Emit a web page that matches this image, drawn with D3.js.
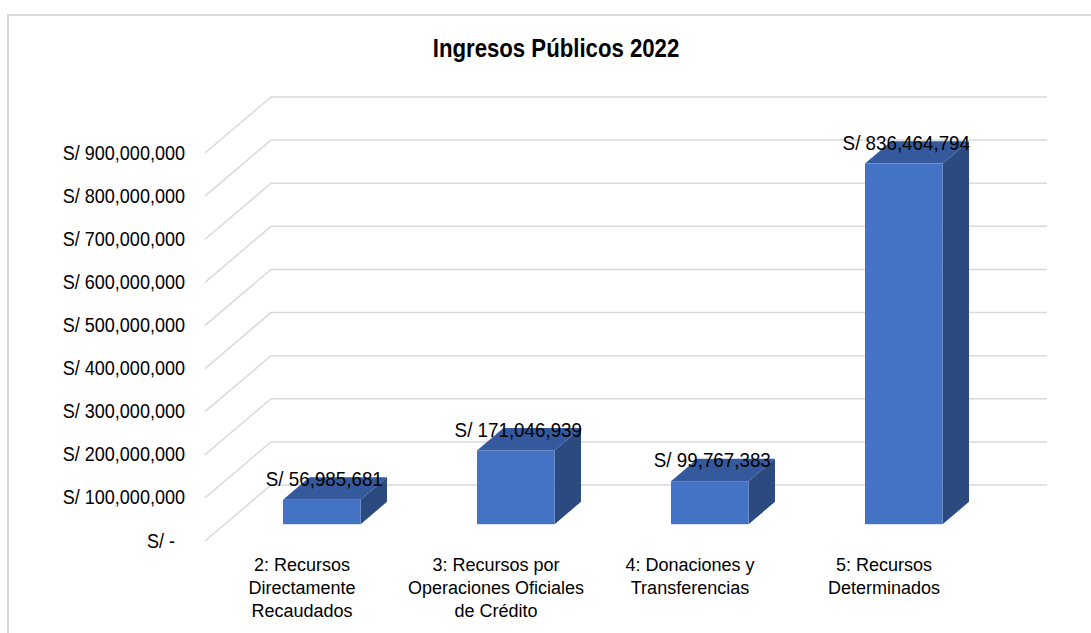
<!DOCTYPE html>
<html>
<head>
<meta charset="utf-8">
<script src="https://cdn.jsdelivr.net/npm/d3@7"></script>
<style>
  html, body { margin: 0; padding: 0; background: #ffffff; }
  svg { display: block; font-family: "Liberation Sans", Arial, sans-serif; }
</style>
</head>
<body>
<svg id="chart" width="1091" height="633"></svg>
<script>
// ---- data ----
const title = "Ingresos Públicos 2022";
const categories = [
  "2: Recursos Directamente Recaudados",
  "3: Recursos por Operaciones Oficiales de Crédito",
  "4: Donaciones y Transferencias",
  "5: Recursos Determinados"
];
const categoryLines = [
  ["2: Recursos", "Directamente", "Recaudados"],
  ["3: Recursos por", "Operaciones Oficiales", "de Crédito"],
  ["4: Donaciones y", "Transferencias"],
  ["5: Recursos", "Determinados"]
];
const values = [56985681, 171046939, 99767383, 836464794];
const valueLabels = ["S/ 56,985,681", "S/ 171,046,939", "S/ 99,767,383", "S/ 836,464,794"];
const tickValues = [0, 100000000, 200000000, 300000000, 400000000, 500000000, 600000000, 700000000, 800000000, 900000000];
const tickLabels = ["S/ -", "S/ 100,000,000", "S/ 200,000,000", "S/ 300,000,000", "S/ 400,000,000",
                    "S/ 500,000,000", "S/ 600,000,000", "S/ 700,000,000", "S/ 800,000,000", "S/ 900,000,000"];

// ---- layout ----
const svg = d3.select("#chart");
const DX = 66, DY = -56;          // full depth offset of the 3D floor
const d0 = 0.3, d1 = 0.7;         // bar depth range (fraction of floor depth)
const y = d3.scaleLinear().domain([0, 900000000]).range([541, 153]);
const x = d3.scaleBand().domain(categories).range([205, 981]).paddingInner(0.6).paddingOuter(0.3);

// outer frame
svg.append("rect").attr("x", 8).attr("y", 15).attr("width", 1200).attr("height", 700)
  .attr("fill", "none").attr("stroke", "#d9d9d9").attr("stroke-width", 2);

// title
svg.append("text")
  .attr("transform", "translate(556,56.5) scale(0.87,1)")
  .attr("text-anchor", "middle").attr("font-size", 25.5).attr("font-weight", "bold")
  .attr("fill", "#000").text(title);

// gridlines (side wall + back wall)
const xL = x.range()[0], xR = x.range()[1];
svg.append("g").selectAll("path").data(tickValues).join("path")
  .attr("d", v => `M${xL},${y(v)}L${xL + DX},${y(v) + DY}L${xR + DX},${y(v) + DY}`)
  .attr("fill", "none").attr("stroke", "#d9d9d9").attr("stroke-width", 1.5);

// y tick labels
svg.append("g").selectAll("text").data(tickValues).join("text")
  .attr("transform", (v, i) => `translate(${185 - (v === 0 ? 10 : 0)},${y(v) + 6.5}) scale(0.88,1)`)
  .attr("text-anchor", "end").attr("font-size", 20.5).attr("fill", "#000")
  .text((v, i) => tickLabels[i]);

// bars
const bars = svg.append("g").selectAll("g").data(categories).join("g");
const bw = x.bandwidth();
const bdx = (d1 - d0) * DX, bdy = (d1 - d0) * DY;
function fx(c) { return x(c) + d0 * DX; }
function fyb() { return y(0) + d0 * DY; }
function fyt(i) { return y(values[i]) + d0 * DY; }

// right side face
bars.append("path")
  .attr("d", (c, i) => {
    const xr = fx(c) + bw, yt = fyt(i), yb = fyb();
    return `M${xr},${yb}L${xr},${yt}L${xr + bdx},${yt + bdy}L${xr + bdx},${yb + bdy}Z`;
  })
  .attr("fill", "#2b4a80");
// top face
bars.append("path")
  .attr("d", (c, i) => {
    const xl = fx(c), xr = xl + bw, yt = fyt(i);
    return `M${xl},${yt}L${xr},${yt}L${xr + bdx},${yt + bdy}L${xl + bdx},${yt + bdy}Z`;
  })
  .attr("fill", "#34599c");
// front face
bars.append("rect")
  .attr("x", c => fx(c))
  .attr("y", (c, i) => fyt(i))
  .attr("width", bw)
  .attr("height", (c, i) => fyb() - fyt(i))
  .attr("fill", "#4472c4");

// value labels
bars.append("text")
  .attr("transform", (c, i) => `translate(${fx(c) + bw / 2 + 2.5},${fyt(i) + bdy + 8.5}) scale(0.94,1)`)
  .attr("text-anchor", "middle").attr("font-size", 20).attr("fill", "#000")
  .text((c, i) => valueLabels[i]);

// category labels
const cat = svg.append("g").selectAll("text").data(categories).join("text")
  .attr("text-anchor", "middle").attr("font-size", 18).attr("fill", "#000")
  .attr("x", c => x(c) + bw / 2).attr("y", 571);
cat.selectAll("tspan").data((c, i) => categoryLines[i]).join("tspan")
  .attr("x", function() { return d3.select(this.parentNode).attr("x"); })
  .attr("dy", (t, j) => j === 0 ? 0 : 23)
  .text(t => t);
</script>
</body>
</html>
